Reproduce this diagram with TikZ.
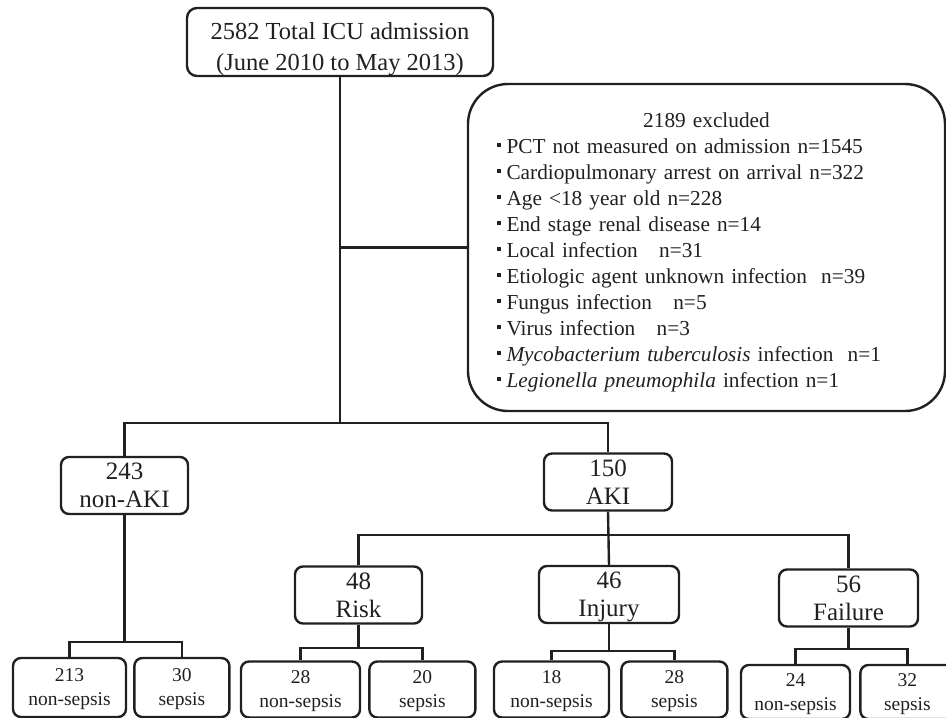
\documentclass[tikz,border=0pt]{standalone}
\usepackage{fontspec}
\setmainfont{Liberation Serif}
\usepackage{tikz}
\usetikzlibrary{positioning}
\definecolor{ink}{HTML}{231F20}
\tikzstyle{box} = [rectangle, rounded corners=8pt, draw=ink, line width=2.4pt, align=center, inner sep=0pt, text depth=0pt, text=ink]
\tikzstyle{topbox} = [box, rounded corners=10pt, minimum width=306pt, minimum height=68pt, font=\fontsize{24.5}{31}\selectfont]
\tikzstyle{exclbox} = [box, rounded corners=40pt, minimum width=477pt, minimum height=327pt, text width=419pt, text depth=254pt, align=left, font=\fontsize{21.3}{26}\selectfont]
\tikzstyle{group} = [box, minimum height=57pt, font=\fontsize{25}{28}\selectfont]
\tikzstyle{leaf} = [box, minimum height=56pt, font=\fontsize{19.5}{24}\selectfont]
\tikzstyle{line} = [draw=ink, line width=2.4pt]
\newcommand{\blt}{\rule[7pt]{3.5pt}{3.5pt}\hspace{6pt}}

\begin{document}
\begin{tikzpicture}[x=1pt, y=-1pt]
  \useasboundingbox (0,0) rectangle (946,718);
  \node[topbox] (top) at (340,42) {\rule{0pt}{25pt}2582 Total ICU admission\\(June 2010 to May 2013)};
  \node[exclbox] (excl) at (706.5,247.5) {\makebox[\linewidth]{2189 excluded}\\
    \blt PCT not measured on admission n=1545\\
    \blt Cardiopulmonary arrest on arrival n=322\\
    \blt Age <18 year old n=228\\
    \blt End stage renal disease n=14\\
    \blt Local infection~~ n=31\\
    \blt Etiologic agent unknown infection~ n=39\\
    \blt Fungus infection~~ n=5\\
    \blt Virus infection~~ n=3\\
    \blt \textit{Mycobacterium tuberculosis} infection~ n=1\\
    \blt \textit{Legionella pneumophila} infection n=1};
  \node[group, minimum width=127pt] (nonaki) at (124.5,485.5) {243\\non-AKI};
  \node[group, minimum width=128pt] (aki) at (608,482) {150\\AKI};
  \node[group, minimum width=127pt] (risk) at (358.5,595) {48\\Risk};
  \node[group, minimum width=140pt] (injury) at (609,594.5) {46\\Injury};
  \node[group, minimum width=139pt] (failure) at (848.5,598) {56\\Failure};
  \node[leaf, minimum width=113pt, minimum height=59pt] (n213) at (69.5,687.5) {213\\non-sepsis};
  \node[leaf, minimum width=95pt, minimum height=59pt, right=6pt of n213] (s30) {30\\sepsis};
  \node[leaf, minimum width=119pt] (n28) at (300.5,689.5) {28\\non-sepsis};
  \node[leaf, minimum width=106pt, right=7pt of n28] (s20) {20\\sepsis};
  \node[leaf, minimum width=115pt] (n18) at (551.5,689.5) {18\\non-sepsis};
  \node[leaf, minimum width=106pt, right=10pt of n18] (s28) {28\\sepsis};
  \node[leaf, minimum width=109pt, minimum height=54pt] (n24) at (795.5,692) {24\\non-sepsis};
  \node[leaf, minimum width=94pt, minimum height=54pt, right=8pt of n24] (s32) {32\\sepsis};

  \coordinate (jmain) at (341,423);
  \coordinate (jaki) at (0,535);
  \coordinate (jna) at (0,642);
  \coordinate (jrisk) at (0,648);
  \coordinate (jinj) at (0,651);
  \coordinate (jfail) at (0,649);

  \draw[line] (top.south) -- (top.south |- jmain);
  \draw[line] (top.south |- excl.west) -- (excl.west);
  \draw[line] (nonaki.north) |- (jmain -| aki.north) -- (aki.north);
  \draw[line] (nonaki.south) -- (nonaki.south |- jna);
  \draw[line] (n213.north) |- (jna -| s30.north) -- (s30.north);
  \draw[line] (aki.south) -- (injury.north);
  \draw[line] (risk.north) |- (jaki -| failure.north) -- (failure.north);
  \draw[line] (risk.south) -- (risk.south |- jrisk);
  \draw[line] (n28.north) |- (jrisk -| s20.north) -- (s20.north);
  \draw[line] (injury.south) -- (injury.south |- jinj);
  \draw[line] (n18.north) |- (jinj -| s28.north) -- (s28.north);
  \draw[line] (failure.south) -- (failure.south |- jfail);
  \draw[line] (n24.north) |- (jfail -| s32.north) -- (s32.north);
\end{tikzpicture}
\end{document}
